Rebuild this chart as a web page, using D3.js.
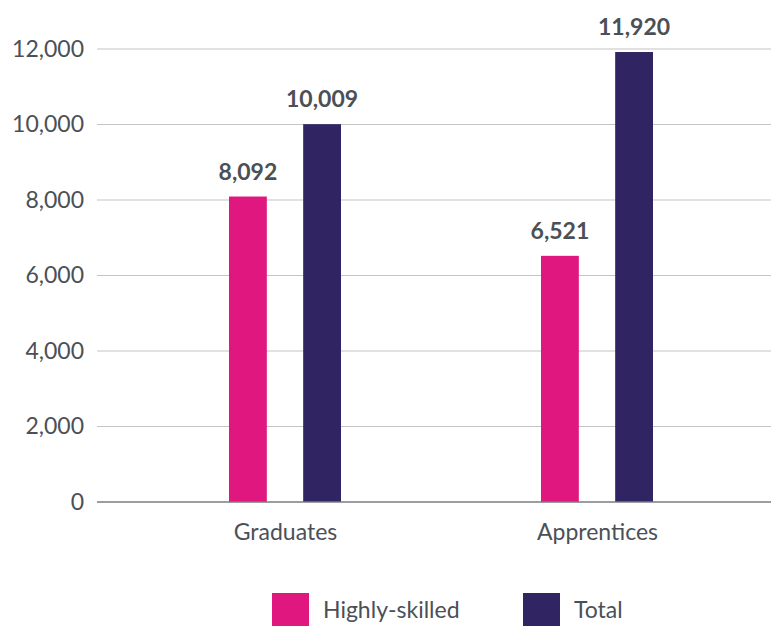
<!DOCTYPE html>
<html><head><meta charset="utf-8">
<script src="https://cdn.jsdelivr.net/npm/d3@7"></script>
<style>body{margin:0;background:#fff}svg{display:block}text{font-family:Lato,"Open Sans",sans-serif}</style>
</head><body>
<svg id="c" width="771" height="626"></svg>
<script>
const categories = ["Graduates", "Apprentices"];
const series = ["Highly-skilled", "Total"];
const highlySkilled = [8092, 6521];
const total = [10009, 11920];
const yTicks = [0, 2000, 4000, 6000, 8000, 10000, 12000];
const colors = ["#E0177F", "#302562"];

const svg = d3.select("#c");
const textColor = "#4b5057";
const FS = 23;
const y = d3.scaleLinear().domain([0, 12000]).range([502, 49]);
const x0 = d3.scalePoint().domain(categories).range([285, 597]);
const x1 = d3.scaleBand().domain(series).range([-56, 56]).paddingInner(0.49);
const fmt = d3.format(",");

// gridlines
svg.append("g").selectAll("line").data(yTicks.filter(d => d > 0)).join("line")
  .attr("x1", 97).attr("x2", 771).attr("y1", d => y(d)).attr("y2", d => y(d))
  .attr("stroke", "#c4c4c4").attr("stroke-width", 1.2);

// y axis labels
const yAxis = d3.axisLeft(y).tickValues(yTicks).tickFormat(fmt).tickSize(0).tickPadding(0);
const ya = svg.append("g").attr("transform", "translate(84,0)").call(yAxis);
ya.select(".domain").remove();
ya.selectAll("text").attr("font-size", FS).attr("fill", textColor).attr("dy", 7)
  .style("font-family", "Lato, 'Open Sans', sans-serif");

// bars
const data = categories.map((c, i) => ({cat: c, vals: [highlySkilled[i], total[i]]}));
const groups = svg.append("g").selectAll("g").data(data).join("g")
  .attr("transform", d => `translate(${x0(d.cat)},0)`);
groups.selectAll("rect").data(d => d.vals.map((v, j) => ({s: series[j], v, j}))).join("rect")
  .attr("x", d => x1(d.s)).attr("width", x1.bandwidth())
  .attr("y", d => y(d.v)).attr("height", d => y(0) - y(d.v))
  .attr("fill", d => colors[d.j]);
groups.selectAll("text").data(d => d.vals.map((v, j) => ({s: series[j], v, j}))).join("text")
  .attr("x", d => x1(d.s) + x1.bandwidth() / 2).attr("y", d => y(d.v) - 17)
  .attr("text-anchor", "middle").attr("font-size", FS).attr("font-weight", "bold")
  .attr("fill", textColor).text(d => fmt(d.v));

// x axis
const xAxis = d3.axisBottom(x0).tickSize(0).tickPadding(0);
const xa = svg.append("g").attr("transform", `translate(0,${y(0)})`).call(xAxis);
xa.select(".domain").remove();
xa.selectAll("text").attr("font-size", FS).attr("fill", textColor).attr("dy", null).attr("y", 38)
  .style("font-family", "Lato, 'Open Sans', sans-serif");
svg.append("line").attr("x1", 97).attr("x2", 771).attr("y1", y(0)).attr("y2", y(0))
  .attr("stroke", "#7a7c80").attr("stroke-width", 1.5);

// legend
const legX = [272, 523];
const lg = svg.append("g").selectAll("g").data(series).join("g")
  .attr("transform", (d, i) => `translate(${legX[i]},593)`);
lg.append("rect").attr("width", 37).attr("height", 37).attr("fill", (d, i) => colors[i]);
lg.append("text").attr("x", 51).attr("y", 25).attr("font-size", FS).attr("fill", textColor).text(d => d);
</script>
</body></html>
